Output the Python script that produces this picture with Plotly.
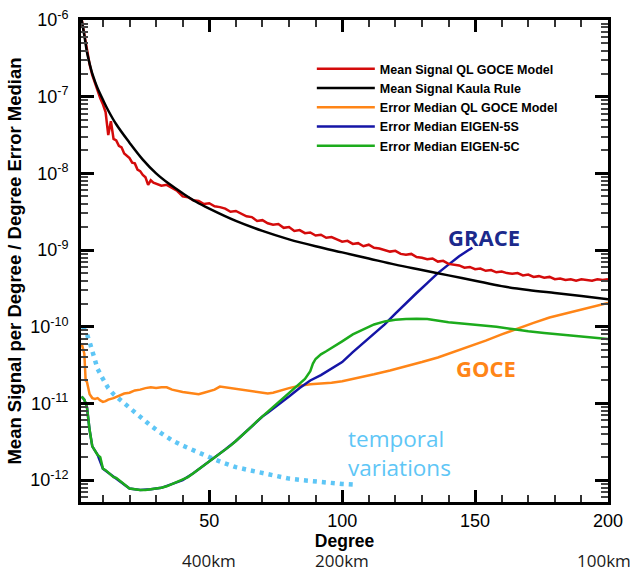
import plotly.graph_objects as go

# ---------------- data (log10 units) ----------------
red_deg = [2, 3, 4, 5, 6, 7, 8, 9, 10, 11, 12, 13, 14, 15, 16, 17, 18, 19, 20, 21, 22, 23, 24, 25,
           26, 27, 28, 29, 30, 32, 34, 36, 38, 40, 42, 44, 46, 48, 50, 52, 54, 56, 58, 60, 62, 64,
           66, 68, 70, 72, 74, 76, 78, 80, 82, 84, 86, 88, 90, 92, 94, 96, 98, 100, 102, 104, 106,
           108, 110, 112, 114, 116, 118, 120, 122, 124, 126, 128, 130, 132, 134, 136, 138, 140, 142,
           144, 146, 148, 150, 152, 154, 156, 158, 160, 162, 164, 166, 168, 170, 172, 174, 176, 178,
           180, 182, 184, 186, 188, 190, 192, 194, 196, 198, 200]
red_log = [-5.99, -6.20, -6.40, -6.58, -6.72, -6.82, -6.93, -7.02, -7.10, -7.20, -7.50, -7.32, -7.55,
           -7.57, -7.64, -7.66, -7.74, -7.77, -7.80, -7.86, -7.87, -7.95, -7.97, -8.02, -8.05, -8.15,
           -8.09, -8.12, -8.13, -8.16, -8.15, -8.19, -8.23, -8.30, -8.31, -8.35, -8.36, -8.40, -8.39,
           -8.43, -8.44, -8.46, -8.50, -8.49, -8.53, -8.56, -8.57, -8.62, -8.61, -8.65, -8.67, -8.66,
           -8.71, -8.70, -8.75, -8.74, -8.78, -8.77, -8.81, -8.80, -8.84, -8.83, -8.86, -8.89, -8.88,
           -8.92, -8.91, -8.95, -8.93, -8.97, -8.98, -9.00, -9.02, -9.01, -9.05, -9.06, -9.05, -9.09,
           -9.10, -9.12, -9.11, -9.15, -9.14, -9.18, -9.19, -9.20, -9.23, -9.22, -9.25, -9.24, -9.27,
           -9.26, -9.29, -9.28, -9.30, -9.31, -9.30, -9.33, -9.32, -9.35, -9.34, -9.36, -9.35, -9.38,
           -9.37, -9.39, -9.38, -9.40, -9.38, -9.39, -9.40, -9.38, -9.39, -9.38]

kaula_deg = [2, 3, 4, 5, 6, 7, 8, 10, 12, 15, 20, 25, 30, 35, 40, 45, 50, 60, 70, 80, 90, 100,
             110, 120, 130, 140, 150, 160, 170, 180, 190, 200]
kaula_log = [-6.00, -6.20, -6.42, -6.57, -6.70, -6.80, -6.89, -7.04, -7.18, -7.36, -7.60, -7.82,
             -8.00, -8.14, -8.26, -8.37, -8.46, -8.62, -8.75, -8.86, -8.95, -9.03, -9.11, -9.19,
             -9.26, -9.33, -9.40, -9.47, -9.52, -9.56, -9.60, -9.64]

goce_err_deg = [2, 2.5, 3, 3.5, 4, 5, 6, 7, 8, 9, 10, 11, 12, 14, 16, 18, 20, 22, 24, 26, 28, 30,
                32, 34, 36, 38, 40, 42, 44, 46, 48, 50, 52, 54, 56, 58, 60, 64, 68, 72, 74, 76, 78,
                80, 84, 88, 92, 96, 100, 106, 112, 118, 124, 130, 136, 142, 148, 154, 160, 166,
                172, 178, 184, 190, 196, 200]
goce_err_log = [-10.22, -10.30, -10.35, -10.70, -10.72, -10.88, -10.93, -10.94, -10.93, -10.96,
                -10.98, -10.97, -10.95, -10.93, -10.90, -10.87, -10.86, -10.83, -10.82, -10.80,
                -10.79, -10.80, -10.79, -10.79, -10.82, -10.84, -10.85, -10.86, -10.87, -10.88,
                -10.86, -10.84, -10.82, -10.78, -10.79, -10.80, -10.81, -10.83, -10.85, -10.87,
                -10.86, -10.84, -10.82, -10.80, -10.77, -10.75, -10.74, -10.73, -10.71, -10.67,
                -10.62, -10.57, -10.52, -10.46, -10.40, -10.33, -10.26, -10.18, -10.10, -10.02,
                -9.95, -9.88, -9.83, -9.77, -9.72, -9.69]

eigen5c_deg = [2, 3, 4, 5, 6, 7, 8, 9, 10, 11, 12, 13, 14, 15, 16, 17, 18, 19, 20, 22, 24, 26, 28,
               30, 32, 34, 36, 38, 40, 42, 44, 46, 48, 50, 52, 54, 56, 58, 60, 62, 64, 66, 68, 70,
               72, 74, 76, 78, 80, 82, 84, 86, 88, 89, 90, 92, 94, 97, 100, 104, 108, 112, 116,
               120, 124, 128, 132, 136, 140, 146, 152, 158, 164, 170, 176, 182, 188, 194, 200]
eigen5c_log = [-10.91, -10.95, -11.05, -11.35, -11.56, -11.62, -11.67, -11.70, -11.85, -11.87,
               -11.90, -11.93, -11.96, -11.97, -12.00, -12.02, -12.05, -12.08, -12.11, -12.12,
               -12.13, -12.13, -12.12, -12.11, -12.10, -12.08, -12.05, -12.03, -12.00, -11.96,
               -11.91, -11.86, -11.81, -11.76, -11.71, -11.66, -11.60, -11.55, -11.49, -11.43,
               -11.36, -11.30, -11.23, -11.17, -11.10, -11.04, -10.98, -10.92, -10.86, -10.80,
               -10.74, -10.68, -10.58, -10.48, -10.42, -10.36, -10.32, -10.26, -10.19, -10.10,
               -10.03, -9.97, -9.93, -9.91, -9.90, -9.895, -9.90, -9.92, -9.94, -9.96, -9.98,
               -10.00, -10.03, -10.06, -10.08, -10.10, -10.12, -10.14, -10.16]

eigen5s_deg = [2, 3, 4, 5, 6, 8, 10, 12, 14, 16, 18, 20, 24, 28, 32, 36, 40, 44, 48, 52, 56, 60,
               64, 68, 70, 72, 76, 80, 84, 88, 92, 96, 100, 104, 108, 112, 116, 120, 124, 128,
               132, 136, 140, 144, 148, 149]
eigen5s_log = [-10.91, -10.95, -11.05, -11.35, -11.56, -11.67, -11.85, -11.90, -11.96, -12.00,
               -12.05, -12.11, -12.13, -12.12, -12.10, -12.05, -12.00, -11.91, -11.81, -11.71,
               -11.60, -11.49, -11.36, -11.23, -11.17, -11.12, -11.02, -10.91, -10.80, -10.70,
               -10.63, -10.55, -10.46, -10.33, -10.21, -10.10, -9.97, -9.83, -9.69, -9.56,
               -9.43, -9.30, -9.19, -9.08, -8.99, -8.97]

temporal_deg = [2.5, 4, 5, 6, 7, 8, 10, 12, 14, 16, 20, 24, 28, 32, 36, 40, 45, 50, 55, 60, 65,
                70, 75, 80, 85, 90, 95, 100, 105]
temporal_log = [-10.00, -10.10, -10.20, -10.33, -10.45, -10.55, -10.68, -10.80, -10.88, -10.94,
                -11.06, -11.17, -11.29, -11.39, -11.48, -11.55, -11.63, -11.70, -11.77, -11.83,
                -11.87, -11.91, -11.95, -11.98, -12.00, -12.02, -12.04, -12.05, -12.06]

x_tick_vals = [50, 100, 150, 200]
x_tick_text = ["50", "100", "150", "200"]
y_tick_exp = [-12, -11, -10, -9, -8, -7, -6]
y_tick_text = ["10<sup>-12</sup>", "10<sup>-11</sup>", "10<sup>-10</sup>", "10<sup>-9</sup>",
               "10<sup>-8</sup>", "10<sup>-7</sup>", "10<sup>-6</sup>"]
km_deg = [50, 100, 198.5]
km_text = ["400km", "200km", "100km"]

# ---------------- figure ----------------
def lin(values):
    return [10 ** v for v in values]

RED = "#d40b0b"
BLACK = "#000000"
ORANGE = "#ff8517"
BLUE = "#1515a6"
GREEN = "#1cab1c"
LIGHT = "#5ec6f6"
AXFONT = "Liberation Sans, Arial, sans-serif"
CAL = "Open Sans, Noto Sans, sans-serif"

fig = go.Figure()
fig.add_trace(go.Scatter(x=temporal_deg, y=lin(temporal_log), mode="lines", showlegend=False,
                         line=dict(color=LIGHT, width=4.5, dash="4px,5px"), hoverinfo="skip"))
fig.add_trace(go.Scatter(x=goce_err_deg, y=lin(goce_err_log), mode="lines",
                         name="Error Median QL GOCE Model", legendrank=3,
                         line=dict(color=ORANGE, width=2.5)))
fig.add_trace(go.Scatter(x=eigen5s_deg, y=lin(eigen5s_log), mode="lines",
                         name="Error Median EIGEN-5S", legendrank=4,
                         line=dict(color=BLUE, width=2.5)))
fig.add_trace(go.Scatter(x=eigen5c_deg, y=lin(eigen5c_log), mode="lines",
                         name="Error Median EIGEN-5C", legendrank=5,
                         line=dict(color=GREEN, width=2.5)))
fig.add_trace(go.Scatter(x=red_deg, y=lin(red_log), mode="lines",
                         name="Mean Signal QL GOCE Model", legendrank=1,
                         line=dict(color=RED, width=2.5)))
fig.add_trace(go.Scatter(x=kaula_deg, y=lin(kaula_log), mode="lines", line_shape="spline",
                         name="Mean Signal Kaula Rule", legendrank=2,
                         line=dict(color=BLACK, width=2.5)))

y_minor = [k * 10.0 ** e for e in range(-13, -6) for k in range(2, 10)]

fig.update_layout(
    width=633, height=571, autosize=False,
    margin=dict(l=81, r=25, t=20, b=69, pad=0),
    paper_bgcolor="white", plot_bgcolor="white",
    font=dict(family=AXFONT, color="black"),
    legend=dict(x=0.438, y=0.929, xanchor="left", yanchor="top", bgcolor="rgba(0,0,0,0)",
                font=dict(family=AXFONT, size=12.5, color="black", weight="bold"),
                itemwidth=58, tracegroupgap=0),
    xaxis=dict(range=[1.75, 200], tickmode="array", tickvals=x_tick_vals, ticktext=x_tick_text,
               ticks="inside", ticklen=12, tickwidth=2.5, tickcolor="black",
               minor=dict(ticks="inside", ticklen=7, tickwidth=1.5, tickcolor="#333",
                          dtick=10, tick0=0),
               showline=True, linewidth=3, linecolor="black", mirror="allticks",
               showgrid=False, zeroline=False, automargin=False,
               tickfont=dict(family=AXFONT, size=18, color="black"), ticklabelstandoff=0,
               title=dict(text="<b>Degree</b>", font=dict(family=AXFONT, size=17.5, color="black"),
                          standoff=0)),
    yaxis=dict(type="log", range=[-12.285, -6], tickmode="array",
               tickvals=[10.0 ** e for e in y_tick_exp], ticktext=y_tick_text,
               ticks="inside", ticklen=13, tickwidth=3, tickcolor="black",
               minor=dict(ticks="inside", ticklen=7, tickwidth=1.5, tickcolor="#444",
                          tickmode="array", tickvals=y_minor),
               showline=True, linewidth=3, linecolor="black", mirror="allticks",
               showgrid=False, zeroline=False, automargin=False,
               tickfont=dict(family=AXFONT, size=18, color="black"), ticklabelstandoff=6,
               title=dict(text="<b>Mean Signal per Degree / Degree Error Median</b>",
                          font=dict(family=AXFONT, size=18.5, color="black"), standoff=4)),
)

annotations = [
    dict(x=153.3, y=-8.83, xref="x", yref="y", text="<b>GRACE</b>", showarrow=False,
         font=dict(family=CAL, size=22, color="#1c2a8c")),
    dict(x=154.1, y=-10.537, xref="x", yref="y", text="<b>GOCE</b>", showarrow=False,
         font=dict(family=CAL, size=22, color=ORANGE)),
    dict(x=101.5, y=-11.64, xref="x", yref="y", text="temporal<br>variations", showarrow=False,
         xanchor="left", align="left", font=dict(family=CAL, size=22.5, color=LIGHT)),
]
for d, t in zip(km_deg, km_text):
    annotations.append(dict(x=d, y=-0.1205, xref="x", yref="paper", text=t, showarrow=False,
                            yanchor="middle", borderpad=0,
                            font=dict(family=CAL, size=17, color="#1a1a1a")))
fig.update_layout(annotations=annotations)

# remove the browser's default 8px page margin so the figure sits at the window's corner
fig.write_html("out.html", config={"displayModeBar": False},
               post_script="document.body.style.margin='0px';")
